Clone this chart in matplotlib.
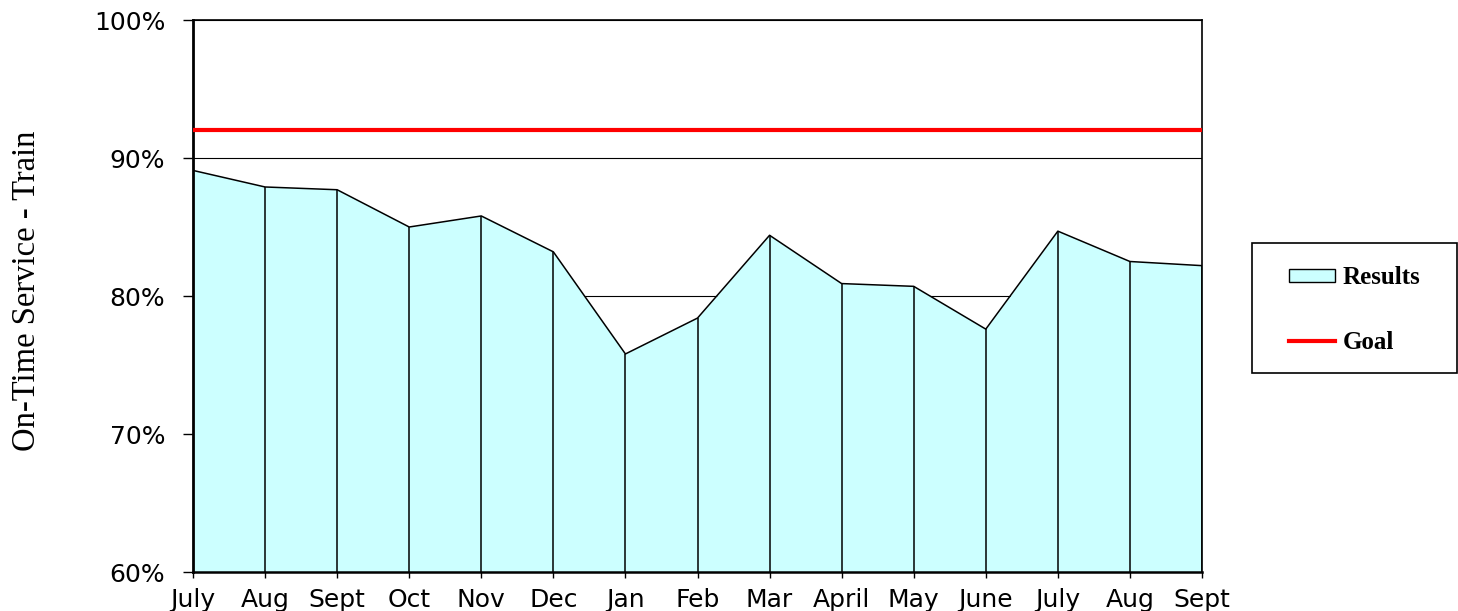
import matplotlib.pyplot as plt
from matplotlib.patches import Patch, Rectangle
from matplotlib.lines import Line2D

months = ['July', 'Aug', 'Sept', 'Oct', 'Nov', 'Dec', 'Jan', 'Feb', 'Mar',
          'April', 'May', 'June', 'July', 'Aug', 'Sept']
results = [89.1, 87.9, 87.7, 85.0, 85.8, 83.2, 75.8, 78.4, 84.4,
           80.9, 80.7, 77.6, 84.7, 82.5, 82.2]
goal = 92.0
y_ticks = [60, 70, 80, 90, 100]

fill_color = '#CCFFFF'

fig = plt.figure(figsize=(14.58, 6.11), dpi=100)
ax = fig.add_axes([193 / 1458, 39 / 611, 1009 / 1458, 552 / 611])

x = list(range(len(months)))

ax.yaxis.grid(True, color='black', lw=0.8)
ax.set_axisbelow(True)
ax.fill_between(x, 60, results, color=fill_color, lw=0, zorder=2)
ax.vlines(x, 60, results, color='black', lw=1.1, zorder=3)
ax.plot(x, results, color='black', lw=1.1, zorder=3)
ax.axhline(goal, color='#FF0000', lw=3, zorder=4)

ax.set_xlim(0, len(months) - 1)
ax.set_ylim(60, 100)
ax.set_xticks(x)
ax.set_xticklabels(months, fontsize=18, family='DejaVu Sans')
ax.set_yticks(y_ticks)
ax.set_yticklabels([f'{v}%' for v in y_ticks], fontsize=18, family='DejaVu Sans')
ax.tick_params(axis='y', direction='out', length=7, width=1, pad=13)
ax.tick_params(axis='x', direction='out', length=4.5, width=1, pad=7)

ax.spines['left'].set_linewidth(2)
ax.spines['bottom'].set_linewidth(1.8)
ax.spines['top'].set_linewidth(1.2)
ax.spines['right'].set_linewidth(1.2)

ax.set_ylabel('On-Time Service - Train', family='Liberation Serif', fontsize=23.5)
ax.yaxis.set_label_coords(-0.150, 0.51)

# legend box
fig.patches.append(Rectangle((1252 / 1458, (611 - 373) / 611), 205 / 1458, 130 / 611,
                             transform=fig.transFigure, facecolor='white',
                             edgecolor='black', lw=1.2))
handles = [Patch(facecolor=fill_color, edgecolor='black', lw=1),
           Line2D([0], [0], color='#FF0000', lw=3)]
fig.legend(handles, ['Results', 'Goal'], loc='center left',
           bbox_to_anchor=(1276 / 1458, (611 - 310) / 611), frameon=False,
           prop={'family': 'Liberation Serif', 'weight': 'bold', 'size': 18},
           handlelength=1.85, handleheight=0.45, handletextpad=0.3,
           labelspacing=1.65, borderpad=0)

fig.savefig('out.png', dpi=100)
